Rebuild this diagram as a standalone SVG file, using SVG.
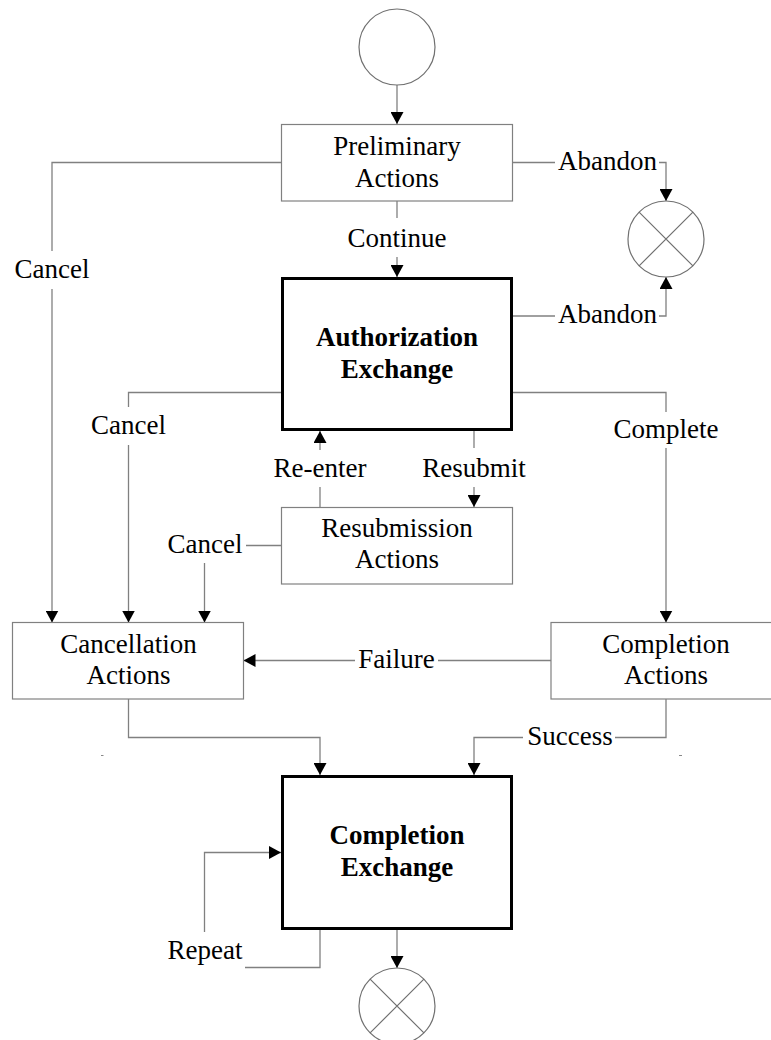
<svg xmlns="http://www.w3.org/2000/svg" width="771" height="1040" viewBox="0 0 771 1040">
  <style>
    text { font-family: "Liberation Serif", "Times New Roman", serif; font-size: 27px; fill: #000; }
    .c { text-anchor: middle; }
    .b { font-weight: bold; }
    .act { fill: #fff; stroke: #808080; stroke-width: 1.2; }
    .exch { fill: #fff; stroke: #000; stroke-width: 3; }
    .term { fill: #fff; stroke: #707070; stroke-width: 1.2; }
    .x { stroke: #707070; stroke-width: 1.2; }
    .ln { fill: none; stroke: #808080; stroke-width: 1.3; }
    .arr { marker-end: url(#ah); }
    .speck { stroke: #888; stroke-width: 1; }
  </style>
  <defs>
    <marker id="ah" viewBox="0 0 12 13" markerWidth="12" markerHeight="13" refX="12" refY="6.5" orient="auto" markerUnits="userSpaceOnUse">
      <path d="M0,0 L12,6.5 L0,13 Z" fill="#000"/>
    </marker>
  </defs>

  <rect width="771" height="1040" fill="#fff"/>

  <!-- connectors -->
  <g id="connectors">
    <!-- start -> preliminary -->
    <path class="ln arr" d="M397,85 V124"/>
    <!-- preliminary: cancel -->
    <path class="ln" d="M281,162.5 H52 V251"/>
    <path class="ln arr" d="M52,289 V622.5"/>
    <!-- preliminary: abandon -->
    <path class="ln" d="M512.5,162.5 H555"/>
    <path class="ln arr" d="M659,162.5 H666 V201"/>
    <!-- preliminary: continue -->
    <path class="ln" d="M397,201 V218"/>
    <path class="ln arr" d="M397,257 V277"/>
    <!-- authorization: abandon -->
    <path class="ln" d="M512.5,316 H555"/>
    <path class="ln arr" d="M659,316 H666 V277"/>
    <!-- authorization: cancel -->
    <path class="ln" d="M281,392.5 H128.5 V407"/>
    <path class="ln arr" d="M128.5,445 V622.5"/>
    <!-- authorization: complete -->
    <path class="ln" d="M512.5,392.5 H666 V412"/>
    <path class="ln arr" d="M666,448 V622.5"/>
    <!-- resubmission: re-enter -->
    <path class="ln" d="M320,507 V487"/>
    <path class="ln arr" d="M320,450 V431"/>
    <!-- authorization: resubmit -->
    <path class="ln" d="M474,431 V448"/>
    <path class="ln arr" d="M474,487 V507"/>
    <!-- resubmission: cancel -->
    <path class="ln" d="M281,545.5 H246"/>
    <path class="ln arr" d="M204.5,563 V622.5"/>
    <!-- completion actions: failure -->
    <path class="ln" d="M551,660.5 H438"/>
    <path class="ln arr" d="M355,660.5 H243.5"/>
    <!-- cancellation -> completion exchange -->
    <path class="ln arr" d="M128.5,699 V737.5 H320 V775"/>
    <!-- completion actions: success -->
    <path class="ln" d="M666,699 V737.5 H615"/>
    <path class="ln arr" d="M523,737.5 H474 V775"/>
    <!-- completion exchange: repeat -->
    <path class="ln" d="M320,930 V967.5 H245"/>
    <path class="ln arr" d="M204.5,932 V852.5 H281"/>
    <!-- completion exchange -> end -->
    <path class="ln arr" d="M397,930 V968"/>

    <!-- labels -->
    <text class="c" x="52" y="278">Cancel</text>
    <text class="c" x="607.5" y="170">Abandon</text>
    <text class="c" x="397" y="246.5">Continue</text>
    <text class="c" x="607.5" y="323">Abandon</text>
    <text class="c" x="128.5" y="434">Cancel</text>
    <text class="c" x="666" y="438">Complete</text>
    <text class="c" x="320" y="476.5">Re-enter</text>
    <text class="c" x="474" y="476.5">Resubmit</text>
    <text class="c" x="205" y="553">Cancel</text>
    <text class="c" x="396.5" y="668">Failure</text>
    <text class="c" x="570" y="745">Success</text>
    <text class="c" x="205" y="959">Repeat</text>
  </g>

  <!-- start terminal -->
  <g id="start">
    <circle class="term" cx="397" cy="47" r="38"/>
  </g>

  <!-- abandon terminal -->
  <g id="abandon-end">
    <circle class="term" cx="666" cy="239" r="38"/>
    <path class="x" d="M639.1,212.1 L692.9,265.9 M692.9,212.1 L639.1,265.9"/>
  </g>

  <g id="preliminary-actions">
    <rect class="act" x="281.5" y="124.5" width="231" height="76.5"/>
    <text class="c" x="397" y="155">Preliminary</text>
    <text class="c" x="397" y="187">Actions</text>
  </g>

  <g id="authorization-exchange">
    <rect class="exch" x="282.5" y="278.5" width="229" height="151"/>
    <text class="c b" x="397" y="346">Authorization</text>
    <text class="c b" x="397" y="378">Exchange</text>
  </g>

  <g id="resubmission-actions">
    <rect class="act" x="281.5" y="507.5" width="231" height="76.5"/>
    <text class="c" x="397" y="537">Resubmission</text>
    <text class="c" x="397" y="568">Actions</text>
  </g>

  <g id="cancellation-actions">
    <rect class="act" x="12.5" y="622.5" width="231" height="76.5"/>
    <text class="c" x="128.5" y="652.5">Cancellation</text>
    <text class="c" x="128.5" y="684">Actions</text>
  </g>

  <g id="completion-actions">
    <rect class="act" x="551" y="622.5" width="231" height="76.5"/>
    <text class="c" x="666" y="652.5">Completion</text>
    <text class="c" x="666" y="684">Actions</text>
  </g>

  <g id="completion-exchange">
    <rect class="exch" x="282.5" y="776.5" width="229" height="152"/>
    <text class="c b" x="397" y="844">Completion</text>
    <text class="c b" x="397" y="876">Exchange</text>
  </g>

  <!-- final terminal -->
  <g id="end">
    <circle class="term" cx="397" cy="1006" r="38"/>
    <path class="x" d="M370.1,979.1 L423.9,1032.9 M423.9,979.1 L370.1,1032.9"/>
  </g>

  <!-- stray marks -->
  <path class="speck" d="M101,755.5 H103.5 M679,755.5 H682"/>
</svg>
